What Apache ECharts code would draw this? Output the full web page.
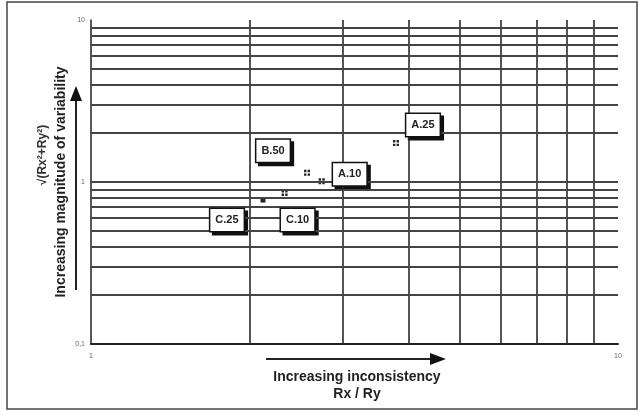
<!DOCTYPE html>
<html>
<head>
<meta charset="utf-8">
<script src="https://cdn.jsdelivr.net/npm/echarts@6/dist/echarts.min.js"></script>
<style>
  html, body { margin: 0; padding: 0; background: #fff; }
  #chart { width: 643px; height: 412px; }
</style>
</head>
<body>
<div id="chart"></div>
<script>
// samples: Rx/Ry against sqrt(Rx^2+Ry^2)
const names = ["A.25", "B.50", "A.10", "C.10", "C.25"];
const ratio = [3.79, 2.57, 2.74, 2.33, 2.12];
const magnitude = [1.74, 1.14, 1.01, 0.855, 0.774];

// log grid positions
const xGrid = [2, 3, 4, 5, 6, 7, 8, 9];
const yGrid = [0.2, 0.3, 0.4, 0.5, 0.6, 0.7, 0.8, 0.9, 1, 2, 3, 4, 5, 6, 7, 8, 9];

const font = "Liberation Sans";

// where each label box sits relative to its point (px)
const boxOffset = {
  "A.25": [27, -18],
  "B.50": [-34, -22],
  "A.10": [28, -7],
  "C.10": [13, 27],
  "C.25": [-36, 20],
};

const dots = "path://M0,0h2v2h-2zM3,0h2v2h-2zM0,3h2v2h-2zM3,3h2v2h-2z";

const boxLabel = {
  show: true,
  formatter: "{b}",
  position: "inside",
  fontFamily: font,
  fontSize: 11,
  fontWeight: "bold",
  padding: [6, 5, 5, 5],
  borderWidth: 1.5,
  opacity: 1,
};

// shadow boxes drawn first, then the white boxes on top
function labelSeries(shadow) {
  return {
    type: "scatter",
    z: shadow ? 4 : 5,
    silent: true,
    symbol: "circle",
    symbolSize: 2,
    itemStyle: { color: "rgba(0,0,0,0)", opacity: 1 },
    label: Object.assign({}, boxLabel, {
      color: shadow ? "#111" : "#222",
      backgroundColor: shadow ? "#111" : "#fff",
      borderColor: "#111",
    }),
    data: names.map((n, i) => {
      const o = boxOffset[n];
      return {
        name: n,
        value: [ratio[i], magnitude[i]],
        label: { offset: shadow ? [o[0] + 3, o[1] + 3] : o },
      };
    }),
  };
}

const chart = echarts.init(document.getElementById("chart"));

chart.setOption({
  animation: false,
  grid: { left: 91, right: 25, top: 20, height: 324 },
  xAxis: {
    type: "log",
    logBase: 10,
    min: 1,
    max: 10,
    axisLine: { show: true, lineStyle: { color: "#222", width: 2 } },
    axisTick: { show: false },
    splitLine: { show: false },
    axisLabel: { fontSize: 7, color: "#666", margin: 9, fontFamily: font },
  },
  yAxis: {
    type: "log",
    logBase: 10,
    min: 0.1,
    max: 10,
    axisLine: { show: true, lineStyle: { color: "#222", width: 1.5 } },
    axisTick: { show: false },
    splitLine: { show: false },
    axisLabel: {
      fontSize: 7,
      color: "#666",
      margin: 6,
      fontFamily: font,
      formatter: (v) => String(v).replace(".", ","),
    },
  },
  graphic: [
    {
      type: "rect",
      shape: { x: 7, y: 2, width: 630, height: 407 },
      style: { fill: "none", stroke: "#444", lineWidth: 1.5 },
      z: 0,
    },
    // y arrow
    {
      type: "line",
      shape: { x1: 76, y1: 290, x2: 76, y2: 98 },
      style: { stroke: "#222", lineWidth: 2 },
    },
    {
      type: "polygon",
      shape: { points: [[76, 86], [70, 101], [82, 101]] },
      style: { fill: "#111" },
    },
    // x arrow
    {
      type: "line",
      shape: { x1: 266, y1: 359, x2: 432, y2: 359 },
      style: { stroke: "#222", lineWidth: 2 },
    },
    {
      type: "polygon",
      shape: { points: [[446, 359], [430, 353], [430, 365]] },
      style: { fill: "#111" },
    },
    {
      type: "text",
      x: 357,
      y: 377,
      style: {
        text: "Increasing inconsistency",
        font: "bold 14px " + font,
        fill: "#222",
        align: "center",
        verticalAlign: "middle",
      },
    },
    {
      type: "text",
      x: 357,
      y: 394,
      style: {
        text: "Rx / Ry",
        font: "bold 14px " + font,
        fill: "#222",
        align: "center",
        verticalAlign: "middle",
      },
    },
    {
      type: "text",
      x: 43,
      y: 155,
      rotation: Math.PI / 2,
      style: {
        text: "√(Rx²+Ry²)",
        font: "bold 12px " + font,
        fill: "#333",
        align: "center",
        verticalAlign: "middle",
      },
    },
    {
      type: "text",
      x: 61,
      y: 182,
      rotation: Math.PI / 2,
      style: {
        text: "Increasing magnitude of variability",
        font: "bold 14px " + font,
        fill: "#222",
        align: "center",
        verticalAlign: "middle",
      },
    },
  ],
  series: [
    {
      type: "scatter",
      z: 3,
      symbol: dots,
      symbolSize: 6,
      itemStyle: { color: "#222", opacity: 1 },
      data: names.map((n, i) => ({
        name: n,
        value: [ratio[i], magnitude[i]],
        symbol: n === "C.25" ? "rect" : dots,
        symbolSize: n === "C.25" ? 5 : 6,
      })),
      markLine: {
        silent: true,
        symbol: "none",
        label: { show: false },
        emphasis: { disabled: true },
        data: [
          ...xGrid.map((v) => ({ xAxis: v, lineStyle: { color: "#2a2a2a", width: 1.6, type: "solid" } })),
          ...yGrid.map((v) => ({ yAxis: v, lineStyle: { color: "#444", width: 2, type: "solid" } })),
        ],
      },
    },
    labelSeries(true),
    labelSeries(false),
  ],
});
</script>
</body>
</html>
